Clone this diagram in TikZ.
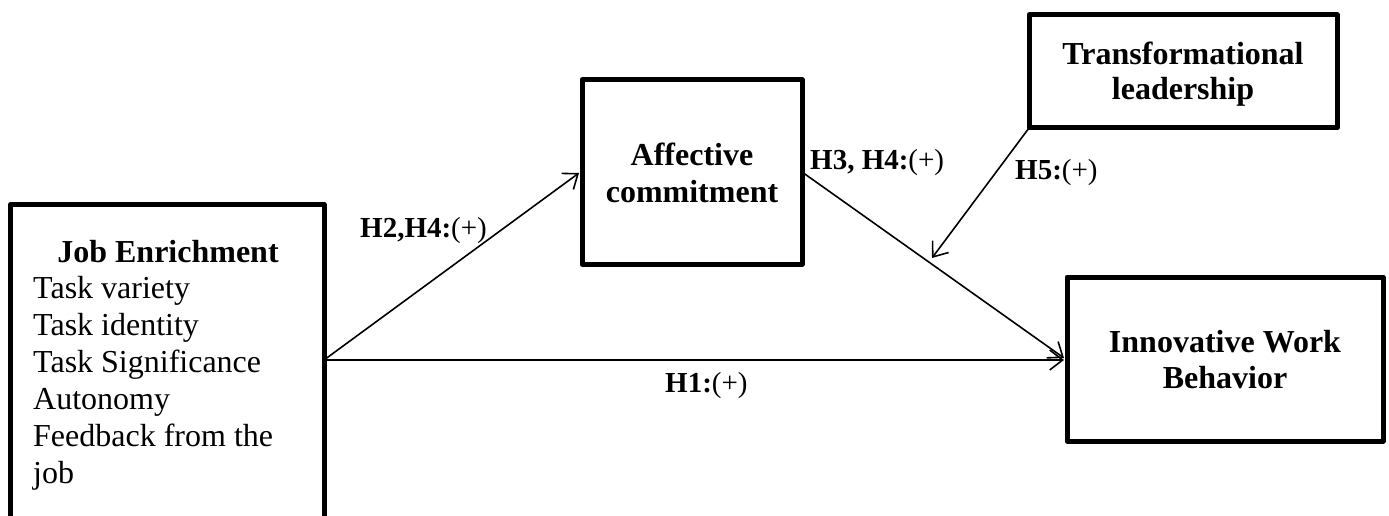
\documentclass[tikz,border=0pt]{standalone}
\usepackage{fontspec}
\setmainfont{Liberation Serif}
\usetikzlibrary{arrows.meta,calc}
\begin{document}
\begin{tikzpicture}[x=1pt,y=-1pt,
  box/.style={draw, line width=5pt, rectangle, inner sep=0pt, outer sep=0pt, line join=round},
  txt/.style={anchor=base, inner sep=0pt, font=\fontsize{32}{37}\selectfont},
  ltxt/.style={anchor=base west, inner sep=0pt, font=\fontsize{32}{37}\selectfont},
  btxt/.style={anchor=base, inner sep=0pt, font=\fontsize{32}{37}\selectfont\bfseries},
  lbl/.style={anchor=base west, inner sep=0pt, font=\fontsize{29}{34}\selectfont},
  conn/.style={line width=1.6pt, -{Straight Barb[length=13pt,width=20pt,line width=1.6pt]}},
  plain/.style={line width=1.6pt}]
\useasboundingbox (0,0) rectangle (1389,516);

% boxes
\node[box, minimum width=313.5pt, minimum height=355.5pt] (je) at (167.25,382.25) {};
\node[box, minimum width=220pt, minimum height=184pt] (aff) at (692,172) {};
\node[box, minimum width=308pt, minimum height=113pt] (tl) at (1183,71.5) {};
\node[box, minimum width=316pt, minimum height=164pt] (inn) at (1225,359) {};

% texts
\node[btxt] (jet) at (168,262) {Job Enrichment};
\node[ltxt] (je1) at (33,298) {Task variety};
\node[ltxt] (je2) at (33,335) {Task identity};
\node[ltxt] (je3) at (33,372) {Task Significance};
\node[ltxt] (je4) at (33,409) {Autonomy};
\node[ltxt] (je5) at (33,446) {Feedback from the};
\node[ltxt] (je6) at (33,483) {job};

\node[btxt] (aff1) at (692,165) {Affective};
\node[btxt] (aff2) at (692,202) {commitment};
\node[btxt] (tl1) at (1183,65) {Transformational};
\node[btxt] (tl2) at (1183,100) {leadership};
\node[btxt] (inn1) at (1225,352) {Innovative Work};
\node[btxt] (inn2) at (1225,388) {Behavior};

% connectors
\coordinate (jeo) at ($(je.north east)+(0,155.5)$);
\coordinate (mod) at (932,258);
\draw[conn] (jeo) -- ($(aff.west)+(-3,1)$);
\draw[conn] (jeo) -- ($(jeo -| inn.west)+(-3,0)$);
\draw[conn] (aff.east) -- ($(inn.west)+(-3,-1)$);
\draw[conn] (tl.south west) -- (mod);

% labels
\node[lbl] (l2) at (360,237) {\textbf{H2,H4:}(+)};
\node[lbl] (l3) at (810,169) {\textbf{H3, H4:}(+)};
\node[lbl] (l5) at (1015,179) {\textbf{H5:}(+)};
\node[lbl] (l1) at (665,392) {\textbf{H1:}(+)};
\end{tikzpicture}
\end{document}
